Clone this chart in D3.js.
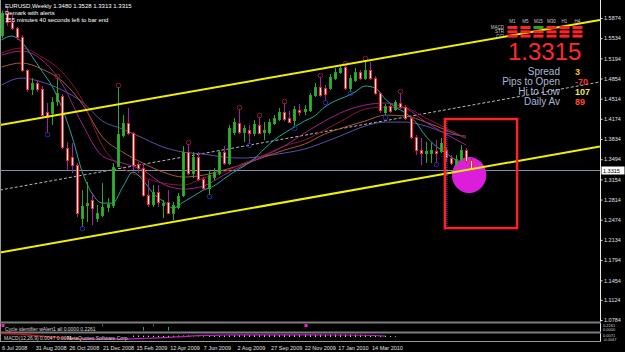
<!DOCTYPE html>
<html>
<head>
<meta charset="utf-8">
<script src="https://cdn.jsdelivr.net/npm/d3@7"></script>
<style>
html, body { margin: 0; padding: 0; background: #000; }
svg { display: block; font-family: "Liberation Sans", Arial, sans-serif; }
</style>
</head>
<body>
<svg id="chart" width="625" height="352"></svg>
<script>
// EURUSD weekly candles, index 0 = week of 6 Jul 2008
const opens = [1.5590,1.5960,1.5806,1.5705,1.5553,1.4997,1.4677,1.4778,1.4677,1.4289,
  1.4272,1.4474,1.4559,1.3682,1.3530,1.3395,1.2502,1.2721,1.2805,1.2502,
  1.2552,1.2687,1.2721,1.3378,1.3901,1.4103,1.3935,1.3412,1.3344,1.2889,
  1.2737,1.2940,1.2721,1.2771,1.2586,1.2687,1.2889,1.3614,1.3260,1.3530,
  1.3159,1.3007,1.3193,1.3260,1.3614,1.3429,1.3952,1.4103,1.3952,1.3985,
  1.3935,1.4070,1.3952,1.3952,1.4103,1.4171,1.4289,1.4188,1.4154,1.4323,
  1.4306,1.4323,1.4575,1.4710,1.4694,1.4694,1.4862,1.4963,1.5048,1.4694,
  1.4829,1.4963,1.4862,1.4997,1.4862,1.4609,1.4289,1.4390,1.4339,1.4441,
  1.4373,1.4188,1.3867,1.3648,1.3598,1.3598,1.3631,1.3631,1.3648,1.3513,
  1.3412,1.3479,1.3648,1.3480];
const highs = [1.6000,1.6038,1.5941,1.5722,1.5587,1.5010,1.4862,1.4829,1.4727,1.4441,
  1.4542,1.4862,1.4592,1.3783,1.3766,1.3429,1.2974,1.3108,1.2923,1.2721,
  1.3091,1.2838,1.3429,1.4710,1.4238,1.4356,1.3952,1.3446,1.3429,1.3142,
  1.3058,1.3058,1.2805,1.2974,1.2771,1.2923,1.3716,1.3749,1.3614,1.3614,
  1.3193,1.3311,1.3344,1.3648,1.3716,1.4070,1.4188,1.4339,1.4070,1.4070,
  1.4154,1.4205,1.4120,1.4171,1.4238,1.4356,1.4441,1.4306,1.4390,1.4424,
  1.4407,1.4609,1.4778,1.4879,1.4744,1.4930,1.5031,1.5065,1.5082,1.4913,
  1.5031,1.4997,1.5166,1.5132,1.4896,1.4626,1.4424,1.4441,1.4491,1.4609,
  1.4407,1.4221,1.3901,1.3851,1.3783,1.3766,1.3817,1.3851,1.3699,1.3564,
  1.3564,1.3732,1.3682,1.3528];
const lows = [1.5540,1.5740,1.5672,1.5503,1.4963,1.4626,1.4575,1.4626,1.4188,1.3935,
  1.4070,1.4390,1.3665,1.3311,1.3260,1.2519,1.2350,1.2434,1.2383,1.2434,
  1.2519,1.2603,1.2670,1.3361,1.3867,1.3901,1.3311,1.3260,1.2856,1.2687,
  1.2687,1.2687,1.2502,1.2569,1.2468,1.2653,1.2856,1.3226,1.3176,1.3125,
  1.2974,1.2889,1.3142,1.3226,1.3395,1.3395,1.3901,1.3918,1.3783,1.3749,
  1.3884,1.3918,1.3817,1.3918,1.4070,1.4137,1.4137,1.4103,1.4036,1.4221,
  1.4238,1.4289,1.4542,1.4542,1.4474,1.4660,1.4829,1.4930,1.4660,1.4626,
  1.4795,1.4829,1.4829,1.4829,1.4575,1.4272,1.4221,1.4272,1.4306,1.4339,
  1.4154,1.3834,1.3564,1.3395,1.3429,1.3429,1.3429,1.3598,1.3446,1.3395,
  1.3378,1.3463,1.3429,1.3313];
const closes = [1.5960,1.5806,1.5705,1.5553,1.4997,1.4677,1.4778,1.4677,1.4239,1.4205,
  1.4457,1.4609,1.3699,1.3479,1.3395,1.2586,1.2704,1.2754,1.2670,1.2586,
  1.2687,1.2737,1.3361,1.3918,1.4103,1.3935,1.3395,1.3344,1.2889,1.2737,
  1.2940,1.2771,1.2754,1.2586,1.2721,1.2872,1.3614,1.3260,1.3530,1.3159,
  1.3007,1.3226,1.3277,1.3614,1.3429,1.4019,1.4120,1.3952,1.4019,1.3935,
  1.4087,1.3935,1.3985,1.4120,1.4188,1.4289,1.4171,1.4120,1.4339,1.4289,
  1.4339,1.4575,1.4710,1.4575,1.4592,1.4879,1.4963,1.5031,1.4694,1.4862,
  1.4963,1.4862,1.4997,1.4862,1.4609,1.4323,1.4390,1.4306,1.4457,1.4373,
  1.4188,1.3867,1.3648,1.3598,1.3631,1.3648,1.3598,1.3766,1.3530,1.3429,
  1.3496,1.3648,1.3463,1.3315];

// fractal marks (candle index)
const fractalHighs = [11, 23, 37, 47, 51, 56, 63, 68, 72, 79];
const fractalLows = [9, 16, 41, 49, 58, 64, 69, 76, 86];

// moving averages
const tealIdx = d3.range(0, 93, 2);
const teal = [1.5503,1.5570,1.5469,1.5233,1.4980,1.4727,1.4356,1.3867,1.3277,1.2906,
  1.2754,1.2754,1.3024,1.3277,1.3142,1.2923,1.2788,1.2670,1.2771,1.2872,
  1.2974,1.3041,1.3159,1.3277,1.3378,1.3496,1.3665,1.3817,1.3935,1.4036,
  1.4137,1.4221,1.4373,1.4474,1.4542,1.4626,1.4727,1.4694,1.4508,1.4373,
  1.4272,1.4120,1.3884,1.3716,1.3598,1.3479,1.3412];
const slowIdx = d3.range(0, 93, 4);
const magentaMa = [1.5250,1.5317,1.5166,1.4761,1.4087,1.3547,1.3429,1.3311,1.3075,1.2990,
  1.3041,1.3226,1.3395,1.3547,1.3716,1.3935,1.4137,1.4306,1.4407,1.4441,1.4356,1.4120,1.3918,1.3733];
const maroonMa = [1.5284,1.5368,1.5216,1.4963,1.4491,1.3716,1.3344,1.3193,1.3091,1.3058,
  1.3176,1.3277,1.3429,1.3564,1.3716,1.3817,1.3985,1.4171,1.4339,1.4373,1.4356,1.4188,1.4019,1.3850];
const brownMa = [1.5048,1.5115,1.5014,1.4812,1.4424,1.3867,1.3614,1.3429,1.3277,1.3193,
  1.3226,1.3311,1.3412,1.3530,1.3648,1.3749,1.3918,1.4036,1.4137,1.4238,1.4221,1.4120,1.3985,1.3850];
const slateMa = [1.4744,1.4862,1.4795,1.4660,1.4457,1.4137,1.4002,1.3851,1.3699,1.3614,
  1.3581,1.3530,1.3513,1.3547,1.3598,1.3665,1.3783,1.3918,1.4053,1.4120,1.4120,1.4053,1.3935,1.3884];

// drawn objects (candle index / price)
const objIdx = [-0.3, 118.5];
const upperChannel = [1.4070, 1.5840];
const lowerChannel = [1.1920, 1.3710];
const dashTrend = [1.2974, 1.4795];
const boxIdx = [87.8, 102.1];
const boxPrice = [1.4171, 1.2333];
const blobIdx = [89.2, 96.0];
const blobPrice = [1.3530, 1.2922];

// axes
const priceTicks = [1.5874,1.5534,1.5194,1.4854,1.4514,1.4174,1.3834,1.3494,1.3154,1.2814,
  1.2474,1.2134,1.1794,1.1454,1.1124,1.0784];
const timeLabels = ["6 Jul 2008","31 Aug 2008","26 Oct 2008","21 Dec 2008","15 Feb 2009","12 Apr 2009",
  "7 Jun 2009","2 Aug 2009","27 Sep 2009","22 Nov 2009","17 Jan 2010","14 Mar 2010"];

// indicator panes
const cycleIdx = [0, 20, 28, 30, 33, 60];
const cycleType = ["sq", "up", "dn", "up", "dn", "sq"];
const histStart = 26;
const macdHist = [0.012,0.012,0.011,0.011,0.010,0.010,0.010,0.010,0.011,0.012,0.013,0.013,
  0.002,0.004,0.006,0.008,0.010,0.012,0.013,0.014,0.015,0.016,0.016,0.016,0.017,0.017,0.017,
  0.017,0.018,0.018,0.018,0.019,0.019,0.019,0.020,0.020,0.021,0.021,0.022,0.022,0.022,0.021,
  0.021,0.020,0.020,0.019,0.018,0.016,0.014,0.012,0.010,0.008,0.006];
const signalIdx = d3.range(16, 77, 4);
const macdSignal = [-0.018,-0.018,-0.017,-0.012,-0.006,0.004,0.014,0.017,0.018,0.018,0.018,0.018,0.017,0.017,0.015,0.008];
const redIdx = [0, 4, 8, 12, 16];
const macdRed = [0.03, 0.024, 0.006, -0.008, -0.016];

const svg = d3.select("#chart");
svg.append("rect").attr("width", 625).attr("height", 352).attr("fill", "#000");

const x = d3.scaleLinear().domain([0, 93]).range([1.5, 471.15]);
const y = d3.scaleLinear().domain([1.0784, 1.5874]).range([320, 18]);

svg.append("defs").append("clipPath").attr("id", "plot")
  .append("rect").attr("x", 0).attr("y", 0).attr("width", 600).attr("height", 322);
const plot = svg.append("g").attr("clip-path", "url(#plot)");

const objLine = d3.line().x(d => x(d[0])).y(d => y(d[1]));

// dashed trend line and bid line sit behind the bars
plot.append("path").datum(d3.zip(objIdx, dashTrend)).attr("d", objLine)
  .attr("stroke", "#b8b8b8").attr("stroke-width", 1).attr("stroke-dasharray", "3,2").attr("fill", "none");
plot.append("line").attr("x1", 0).attr("x2", 600)
  .attr("y1", Math.round(y(closes[closes.length - 1])) + 0.5).attr("y2", Math.round(y(closes[closes.length - 1])) + 0.5)
  .attr("stroke", "#8090a4");

// moving averages
const maLine = d3.line().x(d => x(d[0])).y(d => y(d[1])).curve(d3.curveMonotoneX);
const mas = [
  [slowIdx, slateMa, "#5a50a8"],
  [slowIdx, brownMa, "#a85a3a"],
  [slowIdx, maroonMa, "#8c1434"],
  [slowIdx, magentaMa, "#a0208e"],
  [tealIdx, teal, "#20a8a0"]
];
mas.forEach(m => {
  plot.append("path").datum(d3.zip(m[0], m[1])).attr("d", maLine)
    .attr("fill", "none").attr("stroke", m[2]).attr("stroke-width", 1);
});

// magenta blob behind the last bars
plot.append("ellipse")
  .attr("cx", (x(blobIdx[0]) + x(blobIdx[1])) / 2)
  .attr("cy", (y(blobPrice[0]) + y(blobPrice[1])) / 2)
  .attr("rx", (x(blobIdx[1]) - x(blobIdx[0])) / 2)
  .attr("ry", (y(blobPrice[1]) - y(blobPrice[0])) / 2)
  .attr("fill", "#dc1edc");

// candles
const idx = d3.range(opens.length);
const cx = i => Math.round(x(i));
plot.selectAll("line.wick").data(idx).join("line").attr("class", "wick")
  .attr("x1", i => cx(i) + 0.5).attr("x2", i => cx(i) + 0.5)
  .attr("y1", i => y(highs[i])).attr("y2", i => y(lows[i]))
  .attr("stroke", i => closes[i] >= opens[i] ? "#2ca82c" : "#a020a8");
plot.selectAll("rect.body").data(idx).join("rect").attr("class", "body")
  .attr("x", i => cx(i) - 0.5).attr("width", 2)
  .attr("y", i => Math.round(y(Math.max(opens[i], closes[i]))) + 0.5)
  .attr("height", i => Math.max(1, Math.round(Math.abs(y(opens[i]) - y(closes[i])))))
  .attr("fill", i => closes[i] >= opens[i] ? "#30b430" : "#ffffff")
  .attr("stroke", i => closes[i] >= opens[i] ? "#2aa02a" : "#ff2020")
  .attr("stroke-width", 1);

// fractals
plot.selectAll("circle.fh").data(fractalHighs).join("circle").attr("class", "fh")
  .attr("cx", i => cx(i) + 0.5).attr("cy", i => y(highs[i]) - 1.5).attr("r", 2.3)
  .attr("fill", "none").attr("stroke", "#8e1838");
plot.selectAll("circle.fl").data(fractalLows).join("circle").attr("class", "fl")
  .attr("cx", i => cx(i) + 0.5).attr("cy", i => y(lows[i]) + 1.5).attr("r", 2.3)
  .attr("fill", "none").attr("stroke", "#2a2aa0");

// yellow channel
[upperChannel, lowerChannel].forEach(c => {
  plot.append("path").datum(d3.zip(objIdx, c)).attr("d", objLine)
    .attr("stroke", "#f0f000").attr("stroke-width", 2).attr("fill", "none");
});

// red box
plot.append("line")
  .attr("x1", x(boxIdx[0]) + 2).attr("x2", x(boxIdx[0]) + 2)
  .attr("y1", y(boxPrice[0])).attr("y2", y(boxPrice[1]))
  .attr("stroke", "#6060ff").attr("stroke-dasharray", "1,1");
plot.append("rect")
  .attr("x", x(boxIdx[0])).attr("y", y(boxPrice[0]))
  .attr("width", x(boxIdx[1]) - x(boxIdx[0])).attr("height", y(boxPrice[1]) - y(boxPrice[0]))
  .attr("fill", "none").attr("stroke", "#ff2020").attr("stroke-width", 2.5);

// header text
const head = svg.append("g").attr("fill", "#ffffff").attr("font-size", 6);
head.append("text").attr("x", 5).attr("y", 8).text("EURUSD,Weekly  1.3480 1.3528 1.3313 1.3315");
head.append("text").attr("x", 5).attr("y", 15).text("Demark with alerts");
head.append("text").attr("x", 5).attr("y", 22).text("155 minutes 40 seconds left to bar end");

// signal matrix, top right
const tfs = ["M1", "M5", "M15", "M30", "H1", "H4"];
const rowsLab = ["MACD", "STR", "CCI"];
const colX = d3.scaleLinear().domain([0, 5]).range([507.5, 572.5]);
svg.selectAll("text.tf").data(tfs).join("text").attr("class", "tf")
  .attr("x", (d, i) => colX(i) + 5).attr("y", 23).attr("text-anchor", "middle")
  .attr("font-size", 4.5).attr("fill", "#c8c8c8").text(d => d);
svg.selectAll("text.rl").data(rowsLab).join("text").attr("class", "rl")
  .attr("x", 504).attr("y", (d, i) => 29 + i * 4.3).attr("text-anchor", "end")
  .attr("font-size", 4.5).attr("fill", "#c8c8c8").text(d => d);
rowsLab.forEach((r, ri) => {
  tfs.forEach((t, ci) => {
    svg.append("rect").attr("x", colX(ci)).attr("y", 26 + ri * 4.3)
      .attr("width", 10).attr("height", 3)
      .attr("fill", ri === 0 && ci === 2 ? "#22a822" : "#ff2424");
  });
});
svg.append("text").attr("x", 508).attr("y", 60).attr("font-size", 24)
  .attr("fill", "#ff2a2a").text("1.3315");

const infoLab = ["Spread", "Pips to Open", "Hi to Low", "Daily Av"];
const infoVal = ["3", "-70", "107", "89"];
const infoCol = ["#ffc400", "#ff3030", "#f4e858", "#ff4a2a"];
svg.selectAll("text.il").data(infoLab).join("text").attr("class", "il")
  .attr("x", 560).attr("y", (d, i) => 75 + i * 10).attr("text-anchor", "end")
  .attr("font-size", 10).attr("fill", "#a9b9d6").text(d => d);
svg.selectAll("text.iv").data(infoVal).join("text").attr("class", "iv")
  .attr("x", 575).attr("y", (d, i) => 75 + i * 10)
  .attr("font-family", "'Liberation Sans Narrow', 'Liberation Sans', Arial, sans-serif")
  .attr("font-weight", "bold").attr("font-size", 9)
  .attr("fill", (d, i) => infoCol[i]).text(d => d);

// right price axis
svg.append("line").attr("x1", 600.5).attr("x2", 600.5).attr("y1", 0).attr("y2", 342)
  .attr("stroke", "#e8e8e8");
const ax = svg.append("g").attr("transform", "translate(600.5,0)")
  .call(d3.axisRight(y).tickValues(priceTicks).tickFormat(d3.format(".4f")).tickSize(2).tickPadding(1.5));
ax.select(".domain").remove();
ax.selectAll("line").attr("stroke", "#e0e0e0");
ax.selectAll("text").attr("fill", "#e0e0e0").attr("font-size", 5.5)
  .attr("font-family", "'Liberation Sans', Arial, sans-serif");

// current price tag
const lastY = Math.round(y(closes[closes.length - 1])) + 0.5;
svg.append("rect").attr("x", 601.5).attr("y", lastY - 4).attr("width", 23).attr("height", 8).attr("fill", "#ffffff");
svg.append("text").attr("x", 603).attr("y", lastY + 2).attr("font-size", 5.5).attr("fill", "#000")
  .text(closes[closes.length - 1].toFixed(4));

// frame
svg.append("line").attr("x1", 0.5).attr("x2", 0.5).attr("y1", 0).attr("y2", 342).attr("stroke", "#9a9a9a");
[322.5, 332.5].forEach(v => {
  svg.append("rect").attr("x", 0).attr("y", v - 1).attr("width", 601).attr("height", 2).attr("fill", "#7c7c7c");
});
svg.append("line").attr("x1", 0).attr("x2", 601).attr("y1", 341.5).attr("y2", 341.5).attr("stroke", "#9a9a9a");

// cycle identifier pane
svg.append("text").attr("x", 5).attr("y", 330.5).attr("font-size", 5).attr("fill", "#d8d8d8")
  .text("Cycle identifier wAlert1 all 0.0000 0.2261");
cycleIdx.forEach((ci, k) => {
  const t = cycleType[k];
  if (t === "sq") {
    svg.append("rect").attr("x", cx(ci) - 0.5).attr("y", 324).attr("width", 3).attr("height", 3).attr("fill", "#ff20c0");
  } else {
    svg.append("line").attr("x1", cx(ci) + 0.5).attr("x2", cx(ci) + 0.5)
      .attr("y1", t === "up" ? 324 : 327).attr("y2", t === "up" ? 326.5 : 330.5)
      .attr("stroke", t === "up" ? "#a020a0" : "#20a0a0");
  }
});
svg.append("text").attr("x", 603).attr("y", 327).attr("font-size", 4).attr("fill", "#d0d0d0").text("0.2261");
svg.append("text").attr("x", 603).attr("y", 331).attr("font-size", 4).attr("fill", "#d0d0d0").text("0.0000");

// MACD pane
const ym = d3.scaleLinear().domain([-0.03, 0.03]).range([340.5, 333.5]);
svg.selectAll("line.hist").data(macdHist).join("line").attr("class", "hist")
  .attr("x1", (d, i) => cx(histStart + i) + 0.5).attr("x2", (d, i) => cx(histStart + i) + 0.5)
  .attr("y1", ym(0)).attr("y2", d => ym(d)).attr("stroke", "#d0d0d0");
const mLine = d3.line().x(d => x(d[0])).y(d => ym(d[1])).curve(d3.curveMonotoneX);
svg.append("path").datum(d3.zip(redIdx, macdRed)).attr("d", mLine)
  .attr("fill", "none").attr("stroke", "#c01818").attr("stroke-width", 1.5);
svg.append("path").datum(d3.zip(signalIdx, macdSignal)).attr("d", mLine)
  .attr("fill", "none").attr("stroke", "#c020c0").attr("stroke-width", 1.2);
svg.append("text").attr("x", 4).attr("y", 339.5).attr("font-size", 5).attr("fill", "#d8d8d8")
  .text("MACD(12,26,9) 0.0047 0.0071");
svg.append("text").attr("x", 67).attr("y", 339.5).attr("font-size", 5).attr("fill", "#d8d8d8")
  .text("MetaQuotes Software Corp.");
svg.append("text").attr("x", 603).attr("y", 337).attr("font-size", 4).attr("fill", "#d0d0d0").text("0.0071");
svg.append("text").attr("x", 603).attr("y", 341).attr("font-size", 4).attr("fill", "#d0d0d0").text("-0.0047");

// time axis labels
const tx = d3.scaleLinear().domain([0, timeLabels.length - 1]).range([2, 372]);
svg.selectAll("text.tl").data(timeLabels).join("text").attr("class", "tl")
  .attr("x", (d, i) => tx(i)).attr("y", 350).attr("font-size", 5.5).attr("fill", "#e0e0e0").text(d => d);
</script>
</body>
</html>
